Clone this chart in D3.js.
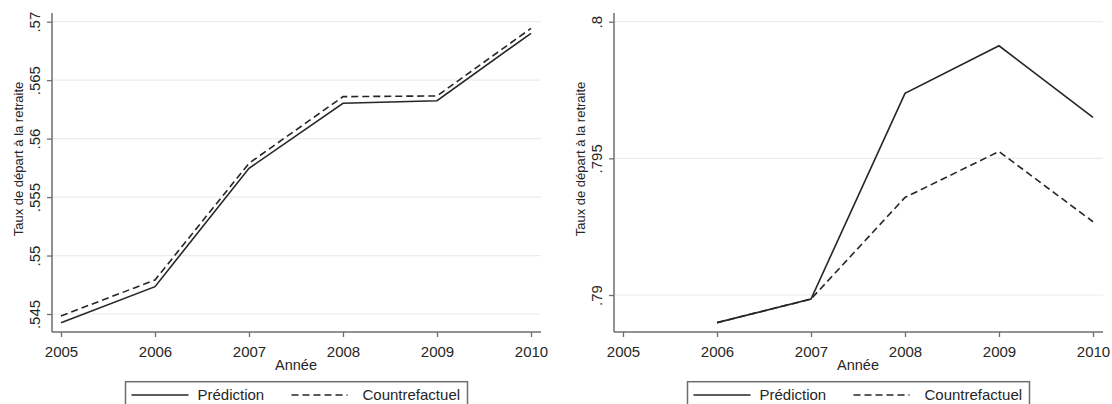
<!DOCTYPE html>
<html>
<head>
<meta charset="utf-8">
<script src="https://cdn.jsdelivr.net/npm/d3@7"></script>
<style>
  html, body { margin: 0; padding: 0; background: #fff; }
  svg { display: block; }
  text { font-family: "Liberation Sans", Arial, sans-serif; fill: #262626; }
</style>
</head>
<body>
<svg id="chart" width="1112" height="404"></svg>
<script>
// Years on the horizontal axis
const years = [2005, 2006, 2007, 2008, 2009, 2010];
const xTickLabels = ["2005", "2006", "2007", "2008", "2009", "2010"];

// Left panel: retirement rate, prediction vs counterfactual
const leftYears = [2005, 2006, 2007, 2008, 2009, 2010];
const leftPrediction = [0.54426, 0.54734, 0.55746, 0.56302, 0.56324, 0.56901];
const leftCounterfactual = [0.54483, 0.54791, 0.55789, 0.56359, 0.56365, 0.56943];
const leftYTicks = [0.545, 0.55, 0.555, 0.56, 0.565, 0.57];
const leftYTickLabels = [".545", ".55", ".555", ".56", ".565", ".57"];

// Right panel: retirement rate, prediction vs counterfactual (from 2006)
const rightYears = [2006, 2007, 2008, 2009, 2010];
const rightPrediction = [0.78899, 0.78985, 0.79738, 0.79912, 0.79650];
const rightCounterfactual = [0.78899, 0.78985, 0.79357, 0.79525, 0.79268];
const rightYTicks = [0.79, 0.795, 0.8];
const rightYTickLabels = [".79", ".795", ".8"];

const yTitle = "Taux de départ à la retraite";
const xTitle = "Année";
const legendLabels = ["Prédiction", "Countrefactuel"];

const svg = d3.select("#chart");

const AXIS_COLOR = "#6e6e6e";
const LINE_COLOR = "#262626";
const GRID_COLOR = "#ececec";
const TEXT_COLOR = "#262626";
const FONT = "'Liberation Sans', Arial, sans-serif";
const DASH = "7,4";

function drawPanel(opts) {
  const {
    offsetX, xs, pred, cf, yTicks, yTickLabels, yDomain, yRange
  } = opts;
  const g = svg.append("g").attr("transform", `translate(${offsetX},0)`);

  const axisX = 52, axisRight = 541, axisTop = 13, axisBottom = 332;

  const x = d3.scaleLinear().domain([2005, 2010]).range([61, 531]);
  const y = d3.scaleLinear().domain(yDomain).range(yRange);

  // horizontal grid lines
  g.append("g").selectAll("line")
    .data(yTicks)
    .join("line")
    .attr("x1", axisX).attr("x2", axisRight)
    .attr("y1", d => y(d)).attr("y2", d => y(d))
    .attr("stroke", GRID_COLOR).attr("stroke-width", 1.2);

  // y axis
  const yAxis = d3.axisLeft(y)
    .tickValues(yTicks)
    .tickFormat((d, i) => yTickLabels[i])
    .tickSize(5).tickSizeOuter(0);
  const ya = g.append("g").attr("transform", `translate(${axisX},0)`).call(yAxis);
  ya.select(".domain").remove();
  ya.selectAll(".tick line").attr("stroke", AXIS_COLOR).attr("stroke-width", 1.3);
  ya.selectAll(".tick text")
    .attr("x", null).attr("dy", null)
    .attr("transform", "translate(-12,0) rotate(-90)")
    .attr("text-anchor", "middle")
    .style("font-size", "15px")
    .style("font-family", FONT)
    .style("fill", TEXT_COLOR);

  // x axis
  const xAxis = d3.axisBottom(x)
    .tickValues(years)
    .tickFormat((d, i) => xTickLabels[i])
    .tickSize(5).tickSizeOuter(0);
  const xa = g.append("g").attr("transform", `translate(0,${axisBottom})`).call(xAxis);
  xa.select(".domain").remove();
  xa.selectAll(".tick line").attr("stroke", AXIS_COLOR).attr("stroke-width", 1.3);
  xa.selectAll(".tick text")
    .attr("y", 25).attr("dy", null)
    .style("font-size", "15px")
    .style("font-family", FONT)
    .style("fill", TEXT_COLOR);

  // axis lines
  g.append("line")
    .attr("x1", axisX).attr("x2", axisX)
    .attr("y1", axisTop).attr("y2", axisBottom)
    .attr("stroke", AXIS_COLOR).attr("stroke-width", 1.5);
  g.append("line")
    .attr("x1", axisX).attr("x2", axisRight)
    .attr("y1", axisBottom).attr("y2", axisBottom)
    .attr("stroke", AXIS_COLOR).attr("stroke-width", 1.5);

  // series
  const line = d3.line().x(d => x(d[0])).y(d => y(d[1]));
  g.append("path")
    .datum(xs.map((yr, i) => [yr, cf[i]]))
    .attr("d", line)
    .attr("fill", "none")
    .attr("stroke", LINE_COLOR).attr("stroke-width", 1.6)
    .attr("stroke-dasharray", DASH);
  g.append("path")
    .datum(xs.map((yr, i) => [yr, pred[i]]))
    .attr("d", line)
    .attr("fill", "none")
    .attr("stroke", LINE_COLOR).attr("stroke-width", 1.6);

  // axis titles
  g.append("text")
    .attr("transform", `translate(${axisX - 29},159) rotate(-90)`)
    .attr("text-anchor", "middle")
    .style("font-size", "13px")
    .text(yTitle);
  g.append("text")
    .attr("x", (x.range()[0] + x.range()[1]) / 2)
    .attr("y", 370)
    .attr("text-anchor", "middle")
    .style("font-size", "14.5px")
    .text(xTitle);

  // legend
  const lx = 125.5, ly = 381.7, lw = 342;
  const lg = g.append("g").attr("transform", `translate(${lx},${ly})`);
  lg.append("rect")
    .attr("x", 0).attr("y", 0).attr("width", lw).attr("height", 40)
    .attr("fill", "#fff").attr("stroke", AXIS_COLOR).attr("stroke-width", 1.5);
  lg.append("line")
    .attr("x1", 6).attr("x2", 63).attr("y1", 13.3).attr("y2", 13.3)
    .attr("stroke", LINE_COLOR).attr("stroke-width", 1.6);
  lg.append("text").attr("x", 72).attr("y", 18)
    .style("font-size", "15px").text(legendLabels[0]);
  lg.append("line")
    .attr("x1", 166).attr("x2", 222).attr("y1", 13.3).attr("y2", 13.3)
    .attr("stroke", LINE_COLOR).attr("stroke-width", 1.6)
    .attr("stroke-dasharray", DASH);
  lg.append("text").attr("x", 237).attr("y", 18)
    .style("font-size", "15px").text(legendLabels[1]);
}

drawPanel({
  offsetX: 0,
  xs: leftYears,
  pred: leftPrediction,
  cf: leftCounterfactual,
  yTicks: leftYTicks,
  yTickLabels: leftYTickLabels,
  yDomain: [0.545, 0.57],
  yRange: [314, 21.7]
});

drawPanel({
  offsetX: 562,
  xs: rightYears,
  pred: rightPrediction,
  cf: rightCounterfactual,
  yTicks: rightYTicks,
  yTickLabels: rightYTickLabels,
  yDomain: [0.79, 0.8],
  yRange: [295, 21.7]
});
</script>
</body>
</html>
